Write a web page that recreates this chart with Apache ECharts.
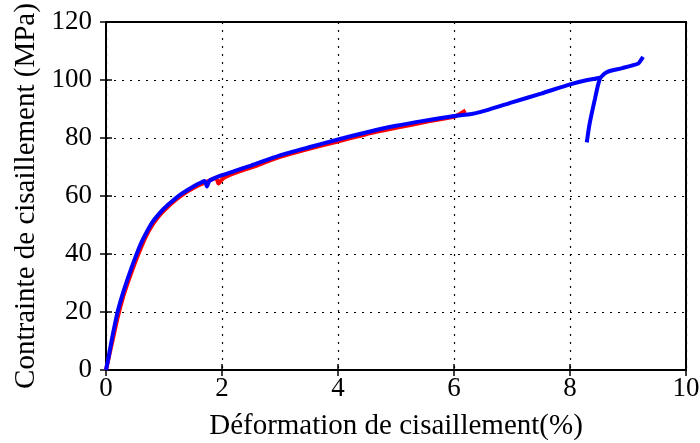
<!DOCTYPE html>
<html><head><meta charset="utf-8">
<script src="https://cdn.jsdelivr.net/npm/echarts@6/dist/echarts.min.js"></script>
<style>html,body{margin:0;padding:0;background:#fff}#c{width:700px;height:443px}</style>
</head><body><div id="c"></div>
<script>
const xTicks = [0, 2, 4, 6, 8, 10];
const yTicks = [0, 20, 40, 60, 80, 100, 120];
const redX = [0, 0.1, 0.2, 0.3, 0.4, 0.5, 0.6, 0.7, 0.8, 0.9, 1.0, 1.2, 1.4, 1.6, 1.8, 1.9, 1.94, 1.98, 2.05, 2.3, 2.6, 3.0, 3.5, 4.0, 4.5, 5.0, 5.5, 6.0, 6.1, 6.2];
const redY = [0, 9, 18, 25.5, 31.5, 37, 42, 46.5, 50, 52.8, 55, 58.6, 61.5, 63.7, 65.5, 66.2, 64.3, 65.3, 66.5, 68.5, 70.5, 73.5, 76.3, 78.8, 81.4, 83.5, 85.5, 87.3, 88.3, 89.5];
const blueX = [0, 0.05, 0.1, 0.2, 0.3, 0.4, 0.5, 0.6, 0.7, 0.8, 0.9, 1.0, 1.1, 1.2, 1.3, 1.4, 1.5, 1.6, 1.7, 1.74, 1.78, 1.85, 2.0, 2.2, 2.5, 3.0, 3.5, 4.0, 4.5, 5.0, 5.5, 6.0, 6.3, 6.6, 7.0, 7.5, 8.0, 8.3, 8.52, 8.6, 8.7, 8.9, 9.18, 9.22, 9.26];
const blueY = [0, 5, 10.5, 20, 27, 33, 38.5, 43.5, 47.5, 51, 53.5, 55.7, 57.5, 59.2, 60.7, 62, 63.2, 64.3, 65.2, 63.3, 65.2, 66, 67.2, 68.5, 70.5, 74, 76.8, 79.5, 82, 84.2, 86, 87.6, 88.3, 89.8, 92.3, 95.3, 98.5, 100, 100.8, 102.3, 103.2, 104.1, 105.7, 106.8, 108];
const branchX = [8.29, 8.33, 8.38, 8.43, 8.48, 8.52];
const branchY = [78.5, 84, 89, 93.5, 98, 100.8];

const pairs = (xs, ys) => xs.map((x, i) => [x, ys[i]]);
const font = 'Liberation Serif';
const dotted = {show: true, lineStyle: {color: '#000', type: [2, 6], width: 1.2}};
const chart = echarts.init(document.getElementById('c'));
chart.setOption({
  animation: false,
  grid: {left: 106, right: 14, top: 22, bottom: 73, containLabel: false, outerBoundsMode: 'none', show: true, borderColor: '#000', borderWidth: 2, backgroundColor: 'transparent'},
  xAxis: [{
    type: 'value', min: 0, max: 10, interval: 2,
    name: 'Déformation de cisaillement(%)', nameLocation: 'middle', nameGap: 42,
    nameTextStyle: {fontFamily: font, fontSize: 29, color: '#000'},
    axisLine: {show: true, lineStyle: {color: '#000', width: 2}},
    axisTick: {show: true, inside: true, length: 6, lineStyle: {color: '#000', width: 1.5}},
    axisLabel: {fontFamily: font, fontSize: 27, color: '#000', margin: 5, formatter: v => xTicks.includes(v) ? String(v) : ''},
    splitLine: dotted
  }, {
    type: 'value', min: 0, max: 10, interval: 2, position: 'top',
    axisLine: {show: false}, axisTick: {show: true, inside: true, length: 6, lineStyle: {color: '#000', width: 1.5}},
    axisLabel: {show: false}, splitLine: {show: false}
  }],
  yAxis: [{
    type: 'value', min: 0, max: 120, interval: 20,
    name: 'Contrainte de cisaillement (MPa)', nameLocation: 'middle', nameGap: 65,
    nameTextStyle: {fontFamily: font, fontSize: 29, color: '#000'},
    axisLine: {show: true, lineStyle: {color: '#000', width: 2}},
    axisTick: {show: true, inside: true, length: 6, lineStyle: {color: '#000', width: 1.5}},
    axisLabel: {fontFamily: font, fontSize: 27, color: '#000', margin: 14, formatter: v => yTicks.includes(v) ? String(v) : ''},
    splitLine: dotted
  }, {
    type: 'value', min: 0, max: 120, interval: 20, position: 'right',
    axisLine: {show: false}, axisTick: {show: true, inside: true, length: 6, lineStyle: {color: '#000', width: 1.5}},
    axisLabel: {show: false}, splitLine: {show: false}
  }],
  series: [
    {type: 'line', data: pairs(redX, redY), showSymbol: false, smooth: 0.2, lineStyle: {color: '#ff0000', width: 4}, z: 3},
    {type: 'line', data: pairs(blueX, blueY), showSymbol: false, smooth: 0.2, lineStyle: {color: '#0000ff', width: 4}, z: 4},
    {type: 'line', data: pairs(branchX, branchY), showSymbol: false, smooth: 0.2, lineStyle: {color: '#0000ff', width: 4}, z: 4}
  ]
});
</script></body></html>
